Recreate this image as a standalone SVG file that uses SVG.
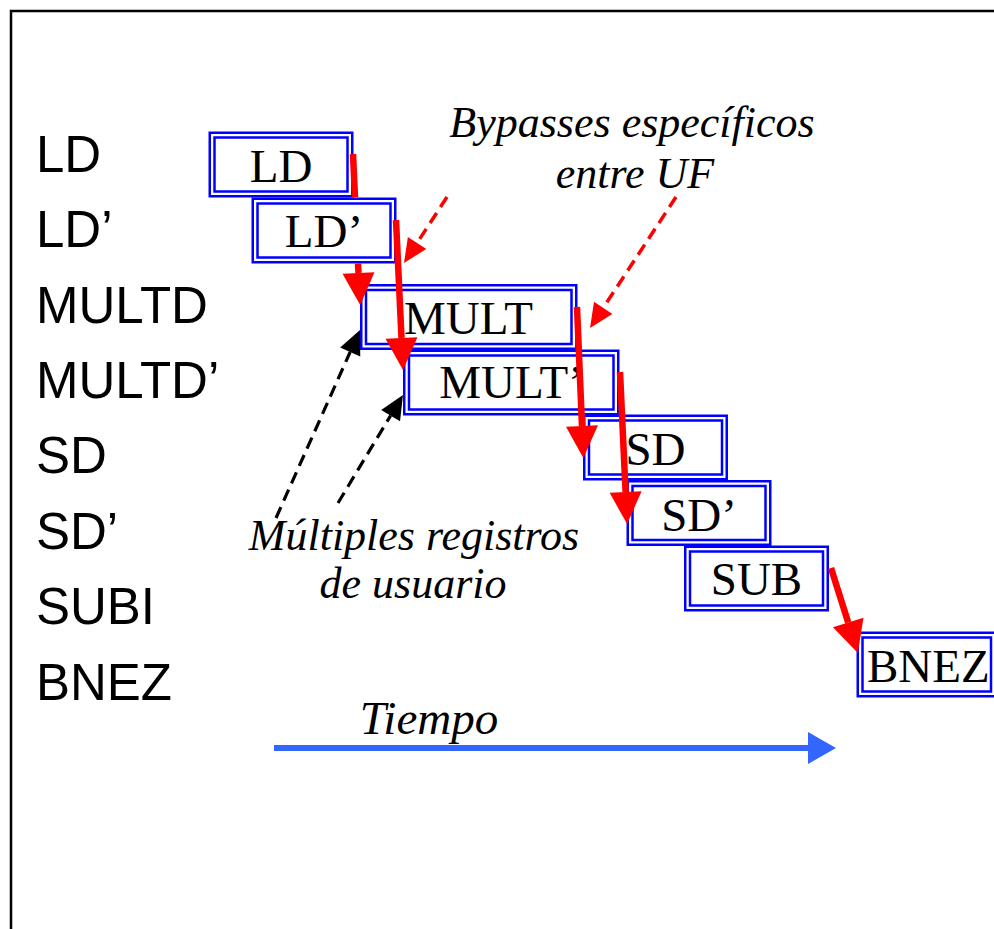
<svg xmlns="http://www.w3.org/2000/svg" width="994" height="929" viewBox="0 0 994 929">
  <style>
    .frame { fill: none; stroke: #000; stroke-width: 2.5; }
    .instr { font-family: "Liberation Sans", Arial, sans-serif; font-size: 51px; fill: #000; }
    .box-o { fill: #fff; stroke: #0000ff; stroke-width: 2.5; }
    .box-i { fill: none; stroke: #0000ff; stroke-width: 2.5; }
    .stage { font-family: "Liberation Serif", "Times New Roman", serif; font-size: 47px; fill: #000; text-anchor: middle; }
    .note { font-family: "Liberation Serif", "Times New Roman", serif; font-style: italic; font-size: 44px; fill: #000; text-anchor: middle; }
    .bypass { fill: none; stroke: #ff0000; stroke-width: 6.5; }
    .bypass-dash { fill: none; stroke: #ff0000; stroke-width: 3.5; stroke-dasharray: 12 7; }
    .reg-dash { fill: none; stroke: #000; stroke-width: 3.2; stroke-dasharray: 12 7; }
    .time { fill: none; stroke: #3366ff; stroke-width: 6; }
  </style>
  <defs>
    <marker id="head-red" markerUnits="userSpaceOnUse" markerWidth="32" markerHeight="32" refX="0" refY="16" orient="auto" overflow="visible">
      <path d="M0,0 L32,16 L0,32 Z" fill="#ff0000"/>
    </marker>
    <marker id="head-red-small" markerUnits="userSpaceOnUse" markerWidth="24" markerHeight="22" refX="0" refY="11" orient="auto" overflow="visible">
      <path d="M0,0 L24,11 L0,22 Z" fill="#ff0000"/>
    </marker>
    <marker id="head-black" markerUnits="userSpaceOnUse" markerWidth="24" markerHeight="22" refX="0" refY="11" orient="auto" overflow="visible">
      <path d="M0,0 L24,11 L0,22 Z" fill="#000"/>
    </marker>
    <marker id="head-blue" markerUnits="userSpaceOnUse" markerWidth="28" markerHeight="32" refX="0" refY="16" orient="auto" overflow="visible">
      <path d="M0,0 L28,16 L0,32 Z" fill="#3366ff"/>
    </marker>
  </defs>

  <rect x="0" y="0" width="994" height="929" fill="#fff"/>
  <path class="frame" d="M11,929 V11 H994"/>

  <!-- instruction list -->
  <g id="instructions">
    <text class="instr" x="36" y="172">LD</text>
    <text class="instr" x="36" y="247">LD’</text>
    <text class="instr" x="36" y="323">MULTD</text>
    <text class="instr" x="36" y="398">MULTD’</text>
    <text class="instr" x="36" y="473">SD</text>
    <text class="instr" x="36" y="549">SD’</text>
    <text class="instr" x="36" y="624">SUBI</text>
    <text class="instr" x="36" y="700">BNEZ</text>
  </g>

  <!-- functional-unit stages -->
  <g id="stage-ld">
    <rect class="box-o" x="209.75" y="132.75" width="142.5" height="63.5"/>
    <rect class="box-i" x="214.5" y="137.5" width="133" height="54"/>
    <text class="stage" x="281" y="182">LD</text>
  </g>
  <g id="stage-ld2">
    <rect class="box-o" x="252.75" y="198.75" width="142.5" height="63.5"/>
    <rect class="box-i" x="257.5" y="203.5" width="133" height="54"/>
    <text class="stage" x="324" y="247">LD’</text>
  </g>
  <g id="stage-mult">
    <rect class="box-o" x="361.25" y="285.25" width="215" height="63.5"/>
    <rect class="box-i" x="366" y="290" width="205.5" height="54"/>
    <text class="stage" x="468.5" y="334">MULT</text>
  </g>
  <g id="stage-mult2">
    <rect class="box-o" x="404.25" y="350.75" width="214" height="63.5"/>
    <rect class="box-i" x="409" y="355.5" width="204.5" height="54"/>
    <text class="stage" x="511.5" y="398">MULT’</text>
  </g>
  <g id="stage-sd">
    <rect class="box-o" x="584.25" y="415.75" width="142.5" height="63.5"/>
    <rect class="box-i" x="589" y="420.5" width="133" height="54"/>
    <text class="stage" x="655.5" y="465">SD</text>
  </g>
  <g id="stage-sd2">
    <rect class="box-o" x="627.75" y="481.25" width="142.5" height="63.5"/>
    <rect class="box-i" x="632.5" y="486" width="133" height="54"/>
    <text class="stage" x="699" y="531">SD’</text>
  </g>
  <g id="stage-sub">
    <rect class="box-o" x="685.25" y="546.75" width="142.5" height="63.5"/>
    <rect class="box-i" x="690" y="551.5" width="133" height="54"/>
    <text class="stage" x="756.5" y="595">SUB</text>
  </g>
  <g id="stage-bnez">
    <rect class="box-o" x="857.75" y="632.75" width="138" height="63.5"/>
    <rect class="box-i" x="862.5" y="637.5" width="128.5" height="54"/>
    <text class="stage" x="867" y="682" text-anchor="start" style="text-anchor:start">BNEZ</text>
  </g>

  <!-- annotations -->
  <g id="note-bypass">
    <text class="note" x="632" y="137">Bypasses específicos</text>
    <text class="note" x="635" y="188">entre UF</text>
  </g>
  <g id="note-registers">
    <text class="note" x="414" y="550">Múltiples registros</text>
    <text class="note" x="413" y="598">de usuario</text>
  </g>
  <g id="note-time">
    <text class="note" x="429" y="734" style="font-size:47px">Tiempo</text>
  </g>

  <g id="connectors">
    <!-- forwarding paths between stages (first one runs behind the LD’ stage) -->
    <path class="bypass" d="M353,154 L355,197.5 M358,263.5 L358.5,273" marker-end="url(#head-red)"/>
    <path class="bypass" d="M396,220 L401.5,338" marker-end="url(#head-red)"/>
    <path class="bypass" d="M577,307 L582,426" marker-end="url(#head-red)"/>
    <path class="bypass" d="M620,372 L625.6,492" marker-end="url(#head-red)"/>
    <path class="bypass" d="M831,568 L848.2,622.5" marker-end="url(#head-red)"/>

    <!-- callouts -->
    <path class="bypass-dash" d="M447,197 L417.1,242.9" marker-end="url(#head-red-small)"/>
    <path class="bypass-dash" d="M676,197 L603.2,307.9" marker-end="url(#head-red-small)"/>
    <path class="reg-dash" d="M276,518 L350.2,351.9" marker-end="url(#head-black)"/>
    <path class="reg-dash" d="M338,503 L390.6,415.6" marker-end="url(#head-black)"/>

    <!-- time axis -->
    <path class="time" d="M274,748 L808,748" marker-end="url(#head-blue)"/>
  </g>
</svg>
